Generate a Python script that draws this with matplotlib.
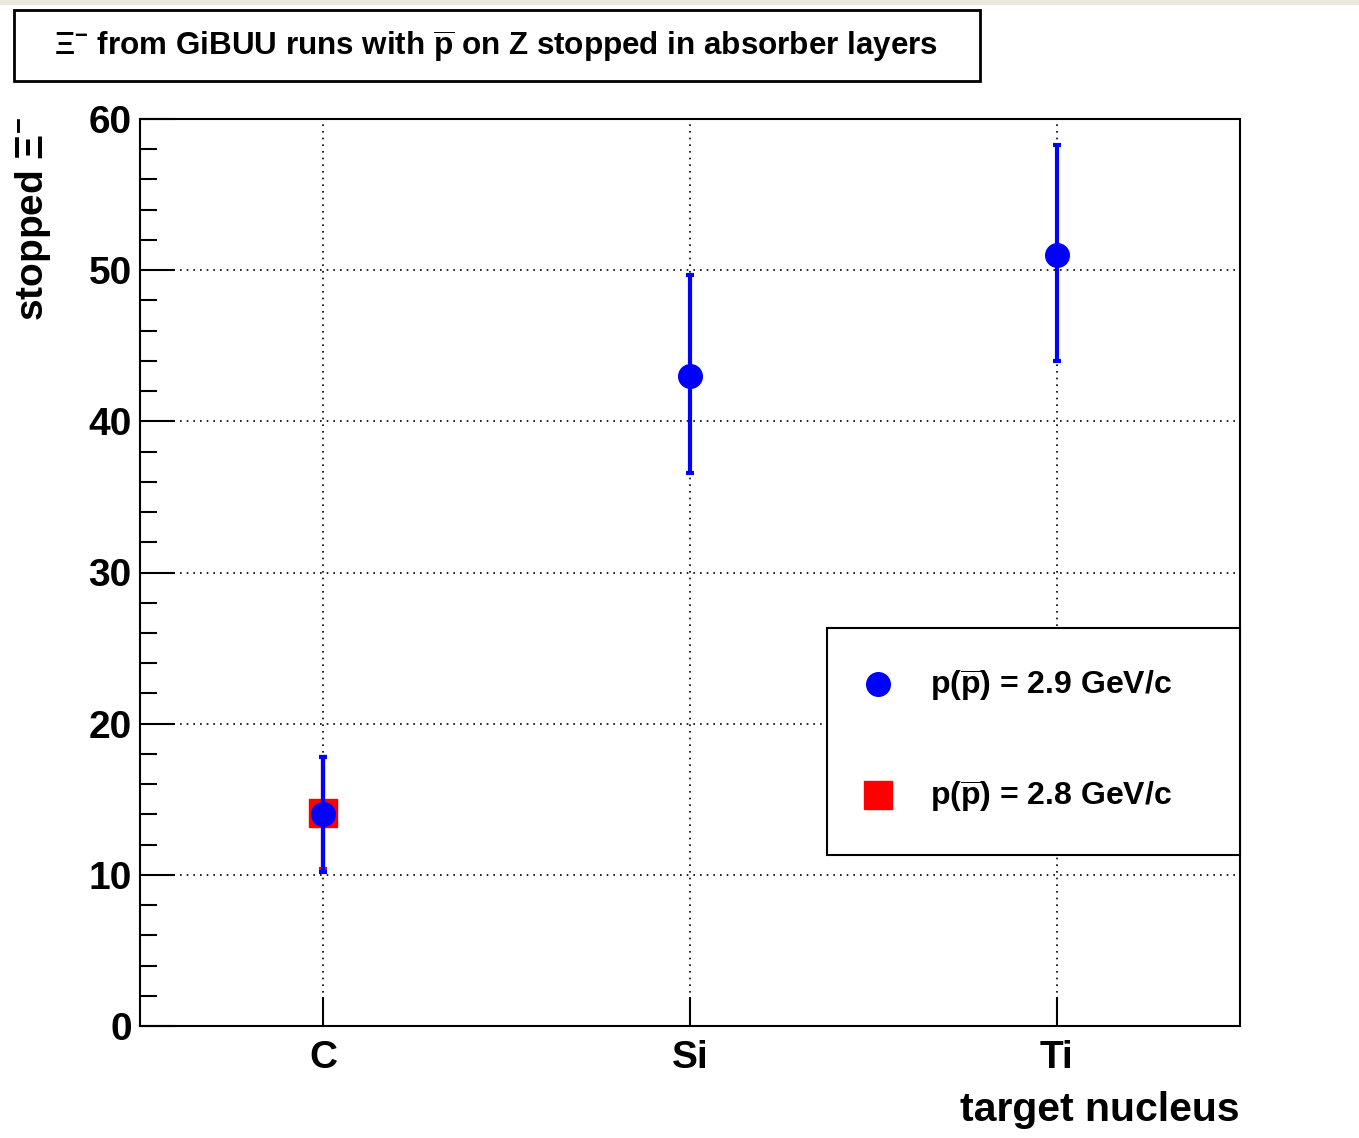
import matplotlib.pyplot as plt
import numpy as np
from matplotlib.patches import Rectangle
from matplotlib.lines import Line2D
from matplotlib.ticker import MultipleLocator

plt.rcParams['font.family'] = ['Liberation Sans', 'DejaVu Sans']
plt.rcParams['font.weight'] = 'bold'
plt.rcParams['mathtext.fontset'] = 'custom'
plt.rcParams['mathtext.rm'] = 'Liberation Sans:bold'
plt.rcParams['mathtext.it'] = 'Liberation Sans:bold'
plt.rcParams['mathtext.bf'] = 'Liberation Sans:bold'

# data
nuclei = ['C', 'Si', 'Ti']
stopped_29 = [14.0, 43.0, 51.0]
err_lo_29 = [3.8, 6.4, 7.0]
err_hi_29 = [3.8, 6.7, 7.3]
nuclei_28 = ['C']
stopped_28 = [14.1]
err_28 = [3.7]
label_29 = r'p($\overline{\rm p}$) = 2.9 GeV/c'
label_28 = r'p($\overline{\rm p}$) = 2.8 GeV/c'

W, H = 1359, 1138
fig = plt.figure(figsize=(W / 100, H / 100), dpi=100)

def fx(px):
    return px / W

def fy(py):
    return 1 - py / H

# screenshot strip along the top edge
fig.patches.append(Rectangle((0, fy(5)), 1, fy(0) - fy(5), transform=fig.transFigure,
                             facecolor='#eee7de', edgecolor='none'))

ax = fig.add_axes([fx(140), fy(1026), fx(1240) - fx(140), fy(119) - fy(1026)])

xpos = np.arange(len(nuclei)) + 0.5
xpos_28 = np.array([nuclei.index(n) for n in nuclei_28]) + 0.5

ax.errorbar(xpos_28, stopped_28, yerr=err_28, fmt='s', color='red', ms=20,
            elinewidth=3, capsize=3, capthick=3, zorder=3)
ax.errorbar(xpos, stopped_29, yerr=[err_lo_29, err_hi_29], fmt='o', color='blue', ms=17,
            elinewidth=3, capsize=3, capthick=3, zorder=4)

ax.set_xlim(0, len(nuclei))
ax.set_ylim(0, 60)
ax.set_xticks(xpos)
ax.set_xticklabels(nuclei, fontsize=28, fontweight='bold')
ax.yaxis.set_major_locator(MultipleLocator(10))
ax.yaxis.set_minor_locator(MultipleLocator(2))
ax.tick_params(axis='y', which='major', direction='in', length=25, width=1.5, labelsize=28, pad=6)
ax.tick_params(axis='y', which='minor', direction='in', length=12, width=1.5)
ax.tick_params(axis='x', which='major', direction='in', length=21, width=1.5, pad=10)
for lbl in ax.get_yticklabels():
    lbl.set_fontweight('bold')
for s in ax.spines.values():
    s.set_linewidth(1.5)
ax.grid(True, which='major', color='black', linestyle=(0, (1, 3)), linewidth=1.2)
ax.set_axisbelow(True)

handles = [Line2D([], [], ls='none', marker='o', color='blue', ms=17),
           Line2D([], [], ls='none', marker='s', color='red', ms=20)]
leg = ax.legend(handles, [label_29, label_28], loc='upper left',
                bbox_to_anchor=(fx(827), fy(856), fx(1240) - fx(827), fy(628) - fy(856)),
                bbox_transform=fig.transFigure, mode='expand',
                fontsize=23, frameon=True, fancybox=False, framealpha=1,
                edgecolor='black', borderpad=1.25, labelspacing=2.34,
                handletextpad=1.28, borderaxespad=0, handlelength=0.69, handleheight=0.7)
leg.get_frame().set_linewidth(1.5)

fig.patches.append(Rectangle((fx(14), fy(81)), fx(980) - fx(14), fy(10) - fy(81),
                             transform=fig.transFigure, fill=False, edgecolor='black',
                             linewidth=2))
fig.text(fx(496), fy(47),
         r'$\Xi^{-}$ from GiBUU runs with $\overline{\rm p}$ on Z stopped in absorber layers',
         ha='center', va='center', fontsize=22.6, fontweight='bold')

fig.text(fx(33), fy(117), r'stopped $\Xi^{-}$', rotation=90, ha='center', va='top',
         fontsize=28, fontweight='bold')
fig.text(fx(1240), fy(1110), 'target nucleus', ha='right', va='center',
         fontsize=29.5, fontweight='bold')

fig.savefig('out.png', dpi=100)
